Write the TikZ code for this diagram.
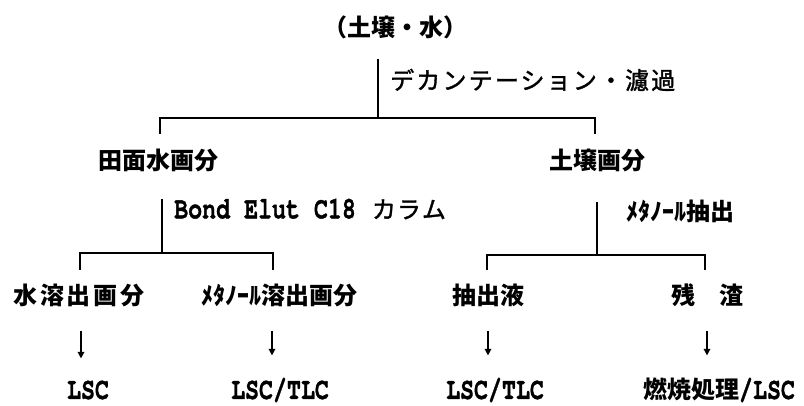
\documentclass[tikz,border=0pt]{standalone}
\usepackage{fontspec}
\usepackage{graphicx}
\usetikzlibrary{arrows.meta}
\newfontfamily\jpf{Noto Sans CJK JP}
\newfontfamily\jpmf{Noto Sans CJK JP}[FakeBold=1.5]
\newfontfamily\latf{texgyrecursor-bold}[Extension=.otf, FakeBold=1.2]
\newcommand{\jp}[1]{{\jpf\bfseries #1}}
\newcommand{\jpr}[1]{{\jpmf #1}}
\newcommand{\lt}[1]{\scalebox{1}[1.32]{\fontsize{23.3}{26}\selectfont\latf #1}}
\tikzset{
  lbl/.style={inner sep=0pt, font=\fontsize{24}{28}\selectfont},
  ln/.style={line width=1.6pt, line cap=rect},
  arr/.style={line width=1.5pt, -{Triangle[length=6.5pt,width=6.5pt]}}
}
\begin{document}
\begin{tikzpicture}[x=1pt,y=-1pt]
\useasboundingbox (0,0) rectangle (804,405);
% nodes
\node[lbl] (top) at (395,27) {\jp{（土壌・水）}};
\node[lbl,anchor=west] (dec) at (390,80) {\jpr{\addfontfeature{LetterSpace=9}デカンテーション・濾過}};
\node[lbl] (wat) at (158,160) {\jp{田面水画分}};
\node[lbl] (soil) at (597,160) {\jp{土壌画分}};
\node[lbl,anchor=west] (bond) at (174,209) {\lt{Bond Elut C18}\hspace{16pt}\jpr{カ\hspace{1pt}ラ\hspace{1pt}ム}};
\node[lbl,anchor=west] (meth) at (626,211) {\jp{ﾒﾀﾉｰﾙ抽出}};
\node[lbl] (w1) at (79,295) {\jp{\addfontfeature{LetterSpace=12}水溶出画分}};
\node[lbl] (w2) at (279,295) {\jp{ﾒﾀﾉｰﾙ溶出画分}};
\node[lbl] (s1) at (488,295) {\jp{抽出液}};
\node[lbl] (s2) at (707,295) {\jp{残　渣}};
\node[lbl] (r1) at (88,390) {\lt{LSC}};
\node[lbl] (r2) at (280,390) {\lt{LSC/TLC}};
\node[lbl] (r3) at (495,390) {\lt{LSC/TLC}};
\node[lbl] (r4) at (719,390) {\jp{燃焼処理}\lt{/LSC}};
% junction coordinates
\coordinate (t0) at (378,60);
\coordinate (j1) at (378,118);
\coordinate (j1l) at (160,118);
\coordinate (j1r) at (595,118);
\coordinate (j1ld) at (160,133);
\coordinate (j1rd) at (595,133);
\coordinate (a0) at (162,200);
\coordinate (j2) at (162,253);
\coordinate (j2l) at (80,253);
\coordinate (j2r) at (273,253);
\coordinate (j2ld) at (80,269);
\coordinate (j2rd) at (273,269);
\coordinate (b0) at (597,203);
\coordinate (j3) at (597,255);
\coordinate (j3l) at (487,255);
\coordinate (j3r) at (705,255);
\coordinate (j3ld) at (487,269);
\coordinate (j3rd) at (705,269);
% tree lines
\draw[ln] (t0) -- (j1);
\draw[ln] (j1ld) -- (j1l) -- (j1r) -- (j1rd);
\draw[ln] (a0) -- (j2);
\draw[ln] (j2ld) -- (j2l) -- (j2r) -- (j2rd);
\draw[ln] (b0) -- (j3);
\draw[ln] (j3ld) -- (j3l) -- (j3r) -- (j3rd);
% arrows
\draw[arr,shorten <=24pt,shorten >=22pt] ([xshift=2pt]w1.south) -- ([xshift=2pt]w1.south |- r1.north);
\draw[arr,shorten <=24pt,shorten >=22pt] ([xshift=-7pt]w2.south) -- ([xshift=-7pt]w2.south |- r2.north);
\draw[arr,shorten <=24pt,shorten >=22pt] (s1.south) -- (s1.south |- r3.north);
\draw[arr,shorten <=24pt,shorten >=22pt] (s2.south) -- (s2.south |- r4.north);
\end{tikzpicture}
\end{document}
